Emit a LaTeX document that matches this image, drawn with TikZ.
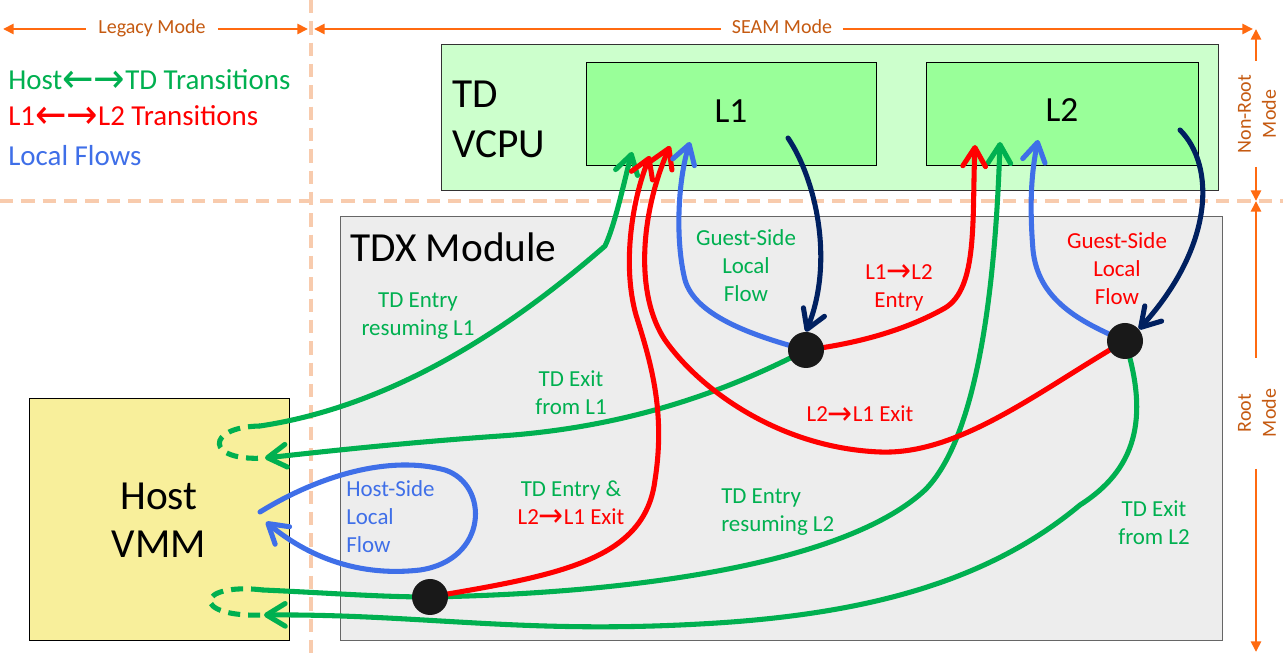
\documentclass[tikz,border=0pt]{standalone}
\usepackage{fontspec}
\setmainfont{Carlito}
\newfontfamily\arrowfont{DejaVu Sans}
\usetikzlibrary{arrows.meta}
\definecolor{tdgreen}{HTML}{00B050}
\definecolor{tdred}{HTML}{FF0000}
\definecolor{tdblue}{HTML}{3F6FE8}
\definecolor{tdnavy}{HTML}{002060}
\definecolor{modeorange}{HTML}{FF6A10}
\definecolor{modetext}{HTML}{C55A11}
\definecolor{dashpeach}{HTML}{F8CBAD}
\definecolor{vcpufill}{HTML}{CCFFCC}
\definecolor{lfill}{HTML}{99FF99}
\definecolor{tdxfill}{HTML}{EDEDED}
\definecolor{hostfill}{HTML}{F8EF9B}
\newcommand{\myra}{\raisebox{-0.1em}{\scalebox{1.3}[1.4]{\arrowfont →}}}
\newcommand{\myla}{\raisebox{-0.1em}{\scalebox{1.3}[1.4]{\arrowfont ←}}}
\begin{document}
\begin{tikzpicture}[x=0.75pt,y=-0.75pt,
  sep/.style={draw=dashpeach, line width=3pt, dash pattern=on 10pt off 6pt},
  oline/.style={draw=modeorange, line width=2.2pt},
  oend/.style={oline, -{Triangle[length=8pt,width=7.5pt]}},
  ostart/.style={oline, {Triangle[length=8pt,width=7.5pt]}-},
  modelbl/.style={text=modetext, font=\fontsize{15}{18.75}\selectfont, inner sep=0pt},
  box/.style={draw, line width=0.75pt, inner sep=0pt},
  bigtxt/.style={font=\fontsize{31}{37.5}\selectfont, inner sep=0pt},
  midtxt/.style={font=\fontsize{26.5}{30}\selectfont, inner sep=0pt, text height=0.64em, text depth=0pt},
  legendtxt/.style={font=\fontsize{21.7}{26}\selectfont, inner sep=0pt},
  lbl/.style={font=\fontsize{17.2}{21}\selectfont, align=center, inner sep=0pt},
  flow/.style={line width=3.8pt, line cap=round, line join=round,
    -{Straight Barb[length=14pt,width=17pt,round]}},
  gflow/.style={flow, draw=tdgreen},
  rflow/.style={flow, draw=tdred},
  bflow/.style={flow, draw=tdblue},
  nflow/.style={flow, draw=tdnavy},
  hloop/.style={draw=tdgreen, line width=3.8pt, dash pattern=on 9pt off 6pt},
  joint/.style={circle, inner sep=0pt, minimum size=27pt}
]
\useasboundingbox (0,0) rectangle (1283,655);
\fill[white] (0,0) rectangle (1283,655);

% separators
\coordinate (vtop) at (311,0); \coordinate (vbot) at (311,655);
\coordinate (hleft) at (0,201); \coordinate (hright) at (1283,201);
\draw[sep] (vtop) -- (vbot);
\draw[sep] (hleft) -- (hright);

% mode arrows
\node[modelbl, text height=0.64em, text depth=0pt, inner xsep=9pt] (lg) at (152,29) {Legacy Mode};
\coordinate (lgL) at (3,29); \coordinate (lgR) at (308,29);
\draw[ostart] (lgL) -- (lg.west);
\draw[oend] (lg.east) -- (lgR);
\node[modelbl, text height=0.64em, text depth=0pt, inner xsep=8pt] (sm) at (782,29) {SEAM Mode};
\coordinate (smL) at (314,29); \coordinate (smR) at (1253,29);
\draw[ostart] (smL) -- (sm.west);
\draw[oend] (sm.east) -- (smR);
\node[modelbl, rotate=90, align=center] (nr) at (1257,114) {Non-Root\\Mode};
\coordinate (nrT) at (1256,29); \coordinate (nrA) at (1256,61);
\coordinate (nrB) at (1256,167); \coordinate (nrM) at (1256,201);
\draw[ostart] (nrT) -- (nrA);
\draw[oend] (nrB) -- (nrM);
\node[modelbl, rotate=90, align=center] (rt) at (1257,413) {Root\\Mode};
\coordinate (rtA) at (1256,358); \coordinate (rtB) at (1256,469); \coordinate (rtE) at (1256,652);
\draw[ostart] (nrM) -- (rtA);
\draw[oend] (rtB) -- (rtE);

% legend
\node[legendtxt, text=tdgreen, anchor=base west] (lg1) at (8,90) {Host\myla\myra TD Transitions};
\node[legendtxt, text=tdred, anchor=base west] (lg2) at (8,126) {L1\myla\myra L2 Transitions};
\node[legendtxt, text=tdblue, anchor=base west] (lg3) at (8,166) {Local Flows};

% boxes
\node[box, fill=vcpufill, draw=black!80, minimum width=582.75pt, minimum height=109.5pt] (vcpu) at (829.5,118) {};
\node[box, fill=lfill, minimum width=217.5pt, minimum height=77.25pt] (l1) at (731,114.5) {};
\node[box, fill=lfill, minimum width=204pt, minimum height=77.25pt] (l2) at (1062,114.5) {};
\node[box, fill=tdxfill, draw=black!60, minimum width=661.5pt, minimum height=318pt] (tdx) at (781,429) {};
\node[box, fill=hostfill, minimum width=195pt, minimum height=181.5pt,
  font=\fontsize{31}{36}\selectfont, align=center] (host) at (159,520) {Host\\VMM};

\node[bigtxt, anchor=west, align=left] (vcputxt) at (452,119.5) {TD\\VCPU};
\node[bigtxt, anchor=base west] (tdxtxt) at (350,262) {TDX Module};
\node[midtxt] (l1txt) at (731,118) {L1};
\node[midtxt] (l2txt) at (1062,117) {L2};

% labels
\node[lbl, text=tdgreen] (t1) at (418,316) {TD Entry\\resuming L1};
\node[lbl, text=tdgreen] (t2) at (571,393) {TD Exit\\from L1};
\node[lbl, text=tdgreen] (t3) at (746,266) {Guest-Side\\Local\\Flow};
\node[lbl, text=tdred] (t4) at (899,287.5) {L1\myra L2\\Entry};
\node[lbl, text=tdred] (t5) at (860,415) {L2\myra L1 Exit};
\node[lbl, text=tdred] (t6) at (1117,268.5) {Guest-Side\\Local\\Flow};
\node[lbl, text=tdblue, align=left, anchor=west] (t7) at (346,516.5) {Host-Side\\Local\\Flow};
\node[lbl] (t8) at (571,503.5) {\textcolor{tdgreen}{TD Entry \&}\\\textcolor{tdred}{L2\myra L1 Exit}};
\node[lbl, text=tdgreen, align=left, anchor=west] (t9) at (721,512) {TD Entry\\resuming L2};
\node[lbl, text=tdgreen] (t10) at (1154,522.5) {TD Exit\\from L2};

% endpoints
\coordinate (h1out) at (260,426);
\coordinate (h1in) at (265,458);
\coordinate (h2out) at (263,590);
\coordinate (h2in) at (264,615);
\coordinate (hl1) at (260,512);
\coordinate (hl2) at (266,522);
\coordinate (l1g) at (632,152);
\coordinate (l1ra) at (650,156);
\coordinate (l1rb) at (670,146);
\coordinate (l1b) at (690,142);
\coordinate (l1n) at (788,138);
\coordinate (l2r) at (975,145);
\coordinate (l2g) at (1000,142);
\coordinate (l2b) at (1038,140);
\coordinate (l2n) at (1180,130);

% junction points
\path (806,350) node[joint] (d1) {};
\path (1125,341) node[joint] (d2) {};
\path (430,597) node[joint] (d3) {};

% host dashed loops
\draw[hloop] (h1out) .. controls (205,427) and (205,462) .. (h1in);
\draw[hloop] (h2out) .. controls (195,582) and (190,618) .. (h2in);

% host-side local flow
\draw[bflow] (hl1) .. controls (320,475) and (390,455) .. (445,470)
  .. controls (490,485) and (488,560) .. (420,570)
  .. controls (350,578) and (300,550) .. (hl2);

% green transitions
\draw[gflow] (h1out) .. controls (400,405) and (520,320) .. (605,246)
  .. controls (615,225) and (624,182) .. (l1g);
\draw[gflow] (d1.center) .. controls (720,395) and (620,428) .. (500,436)
  .. controls (400,443) and (320,452) .. (h1in);
\draw[gflow] (h2out) .. controls (330,593) and (380,597) .. (d3.center)
  .. controls (650,593) and (850,560) .. (925,490)
  .. controls (975,440) and (995,300) .. (l2g);
\draw[gflow] (d2.center) .. controls (1150,420) and (1135,470) .. (1080,505)
  .. controls (990,580) and (870,615) .. (700,624)
  .. controls (520,634) and (420,614) .. (h2in);

% red transitions
\draw[rflow] (d3.center) .. controls (560,575) and (645,560) .. (655,480)
  .. controls (666,410) and (650,360) .. (636,315)
  .. controls (622,265) and (632,200) .. (l1ra);
\draw[rflow] (d2.center) .. controls (1040,390) and (960,455) .. (880,452)
  .. controls (780,448) and (700,390) .. (665,340)
  .. controls (635,295) and (640,215) .. (l1rb);
\draw[rflow] (d1.center) .. controls (870,342) and (915,325) .. (945,308)
  .. controls (978,288) and (972,220) .. (l2r);

% guest-side local flows
\draw[bflow] (d1.center) .. controls (750,335) and (695,315) .. (685,280)
  .. controls (675,240) and (678,180) .. (l1b);
\draw[bflow] (d2.center) .. controls (1080,322) and (1038,300) .. (1033,250)
  .. controls (1029,200) and (1032,170) .. (l2b);
\draw[nflow] (l1n) .. controls (815,178) and (835,260) .. (d1.north);
\draw[nflow] (l2n) .. controls (1215,165) and (1215,245) .. (d2.40);

% dots on top
\fill[black!90] (d1) circle[radius=18];
\fill[black!90] (d2) circle[radius=18];
\fill[black!90] (d3) circle[radius=18];
\end{tikzpicture}
\end{document}
